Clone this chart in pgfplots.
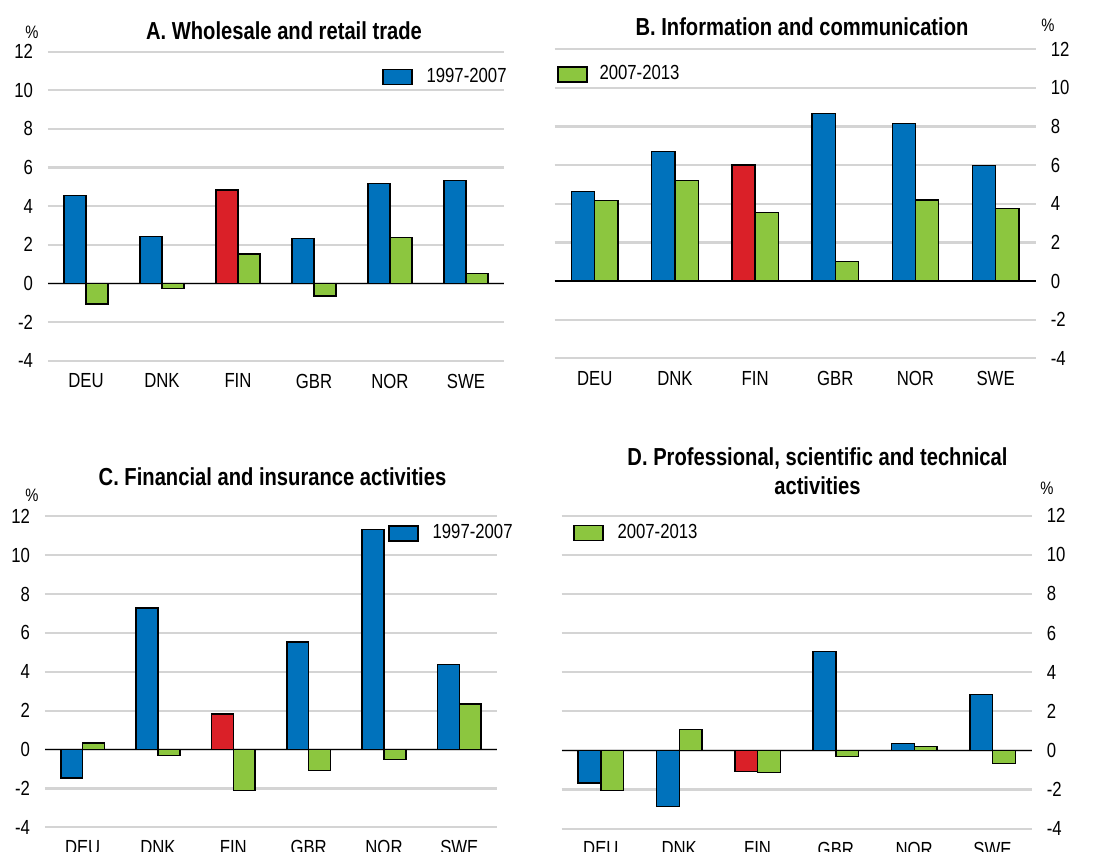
\documentclass[border=0pt]{standalone}
\usepackage{fontspec}
\setmainfont{Liberation Sans}[FakeStretch=0.82]
\usepackage{pgfplots}
\pgfplotsset{compat=1.18}
\definecolor{cblue}{RGB}{0,114,188}
\definecolor{cgreen}{RGB}{140,198,63}
\definecolor{cred}{RGB}{218,32,40}
\definecolor{cgrid}{RGB}{212,212,212}
\pgfplotsset{
  panel/.style={
    scale only axis, anchor=south west,
    xmin=-0.5, xmax=5.5, ymin=-4, ymax=12,
    ytick={-4,-2,...,12}, xtick={0,...,5},
    xticklabels={DEU,DNK,FIN,GBR,NOR,SWE},
    ymajorgrids, grid style={cgrid, line width=1.1pt},
    axis line style={draw=none}, major tick length=0pt, tick style={draw=none},
    clip=false,
    tick label style={font=\fontsize{10.2}{12}\selectfont},
    /pgf/number format/assume math mode=true,
    xticklabel style={yshift=-3pt},
    legend style={draw=none, fill=none, font=\fontsize{10.2}{12}\selectfont, inner sep=0pt, legend cell align=left},
    legend image code/.code={\draw[#1] (0pt,-3.75pt) rectangle (14.5pt,3.75pt);},
  },
  bl/.style={ybar, bar width=0.29, bar shift=-0.145, fill=cblue, draw=black, line width=0.7pt, forget plot},
  rd/.style={ybar, bar width=0.29, bar shift=-0.145, fill=cred, draw=black, line width=0.7pt, forget plot},
  gr/.style={ybar, bar width=0.29, bar shift=0.145, fill=cgreen, draw=black, line width=0.7pt, forget plot},
}
\begin{document}
\begin{tikzpicture}
\useasboundingbox (0pt,0pt) rectangle (549.5pt,426pt);
% Panel A
\begin{axis}[panel, at={(24pt,245.65pt)}, width=228pt, height=154.5pt,
  axis x line=bottom, axis y line=left, yticklabel style={xshift=-4pt},
  legend style={at={(1,1)}, anchor=north east, yshift=-6pt, xshift=3.5pt}]
\addplot[bl] coordinates {(0,4.56) (1,2.42) (3,2.33) (4,5.18) (5,5.32)};
\addplot[rd] coordinates {(2,4.83)};
\addplot[gr] coordinates {(0,-1.07) (1,-0.26) (2,1.52) (3,-0.64) (4,2.38) (5,0.50)};
\addlegendimage{draw=black, fill=cblue, line width=0.7pt}
\addlegendentry{\hspace{5pt}1997-2007}
\draw[black, line width=0.8pt] (axis cs:-0.5,0) -- (axis cs:5.5,0);
\end{axis}
% Panel B
\begin{axis}[panel, at={(277.35pt,246.85pt)}, width=240.5pt, height=154.5pt,
  axis x line=bottom, axis y line=right, yticklabel style={xshift=4pt},
  legend style={at={(0,1)}, anchor=north west, yshift=-6pt, xshift=1pt}]
\addplot[bl] coordinates {(0,4.64) (1,6.71) (3,8.66) (4,8.16) (5,5.99)};
\addplot[rd] coordinates {(2,6.01)};
\addplot[gr] coordinates {(0,4.16) (1,5.21) (2,3.54) (3,1.00) (4,4.19) (5,3.76)};
\addlegendimage{draw=black, fill=cgreen, line width=0.7pt}
\addlegendentry{\hspace{4pt}2007-2013}
\draw[black, line width=0.8pt] (axis cs:-0.5,0) -- (axis cs:5.5,0);
\end{axis}
% Panel C
\begin{axis}[panel, at={(22.5pt,12.35pt)}, width=226pt, height=155.5pt,
  axis x line=bottom, axis y line=left, yticklabel style={xshift=-4pt},
  legend style={at={(1,1)}, anchor=north east, yshift=-2pt, xshift=10pt}]
\addplot[bl] coordinates {(0,-1.46) (1,7.28) (3,5.53) (4,11.32) (5,4.39)};
\addplot[rd] coordinates {(2,1.82)};
\addplot[gr] coordinates {(0,0.34) (1,-0.31) (2,-2.11) (3,-1.08) (4,-0.51) (5,2.35)};
\addlegendimage{draw=black, fill=cblue, line width=0.7pt}
\addlegendentry{\hspace{5pt}1997-2007}
\draw[black, line width=0.8pt] (axis cs:-0.5,0) -- (axis cs:5.5,0);
\end{axis}
% Panel D
\begin{axis}[panel, at={(280.85pt,11.65pt)}, width=235pt, height=156.5pt,
  axis x line=bottom, axis y line=right, yticklabel style={xshift=4pt},
  legend style={at={(0,1)}, anchor=north west, yshift=-2pt, xshift=5.5pt}]
\addplot[bl] coordinates {(0,-1.67) (1,-2.85) (3,5.06) (4,0.34) (5,2.86)};
\addplot[rd] coordinates {(2,-1.09)};
\addplot[gr] coordinates {(0,-2.04) (1,1.06) (2,-1.12) (3,-0.31) (4,0.19) (5,-0.66)};
\addlegendimage{draw=black, fill=cgreen, line width=0.7pt}
\addlegendentry{\hspace{5pt}2007-2013}
\draw[black, line width=0.8pt] (axis cs:-0.5,0) -- (axis cs:5.5,0);
\end{axis}
% Titles
\begin{scope}[every node/.style={font=\fontsize{12.3}{14}\selectfont\bfseries, inner sep=0pt}]
\node at (142pt,410.5pt) {A. Wholesale and retail trade};
\node at (401pt,412.5pt) {B. Information and communication};
\node at (136.25pt,187.65pt) {C. Financial and insurance activities};
\node[align=center] at (408.75pt,190.3pt) {D. Professional, scientific and technical\\[0.5pt]activities};
\end{scope}
\begin{scope}[every node/.style={font=\fontsize{9}{11}\selectfont, inner sep=0pt}]
\node at (16pt,410pt) {\%};
\node at (524pt,413.5pt) {\%};
\node at (16pt,178.5pt) {\%};
\node at (523.5pt,182pt) {\%};
\end{scope}
\end{tikzpicture}
\end{document}
